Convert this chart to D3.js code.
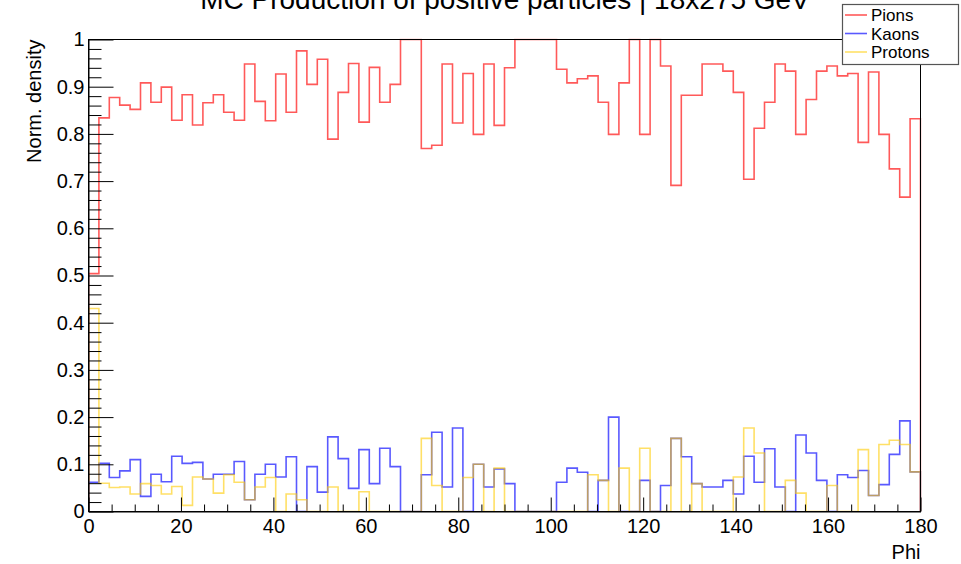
<!DOCTYPE html>
<html>
<head>
<meta charset="utf-8">
<script src="https://cdn.jsdelivr.net/npm/d3@7"></script>
<style>
  html, body { margin: 0; padding: 0; background: #fff; }
  svg { display: block; font-family: "Liberation Sans", Arial, Helvetica, sans-serif; }
</style>
</head>
<body>
<svg id="chart" width="961" height="564"></svg>
<script>
// 80 bins of 2.25 degrees in phi, 0..180
const nBins = 80;
const phiMin = 0, phiMax = 180;

// Per-bin fraction of each species (pions + kaons + protons = 1)
const pions = [
  0.504, 0.834, 0.877, 0.861, 0.852, 0.908, 0.867, 0.899, 0.829, 0.883,
  0.819, 0.866, 0.883, 0.846, 0.829, 0.948, 0.869, 0.828, 0.927, 0.846,
  0.976, 0.905, 0.958, 0.789, 0.888, 0.949, 0.825, 0.941, 0.867, 0.905,
  1.000, 1.000, 0.769, 0.776, 0.948, 0.823, 0.928, 0.799, 0.948, 0.818,
  0.940, 1.000, 1.000, 1.000, 1.000, 0.937, 0.908, 0.917, 0.923, 0.867,
  0.799, 0.908, 1.000, 0.799, 1.000, 0.944, 0.691, 0.882, 0.882, 0.948,
  0.948, 0.933, 0.888, 0.704, 0.812, 0.867, 0.948, 0.933, 0.799, 0.873,
  0.933, 0.944, 0.923, 0.928, 0.782, 0.931, 0.799, 0.726, 0.666, 0.832
];
const kaons = [
  0.062, 0.102, 0.072, 0.086, 0.110, 0.032, 0.079, 0.063, 0.117, 0.102,
  0.104, 0.069, 0.079, 0.079, 0.106, 0.025, 0.079, 0.100, 0.073, 0.116,
  0.000, 0.095, 0.041, 0.158, 0.112, 0.049, 0.131, 0.059, 0.134, 0.095,
  0.000, 0.000, 0.078, 0.168, 0.052, 0.177, 0.000, 0.100, 0.052, 0.090,
  0.059, 0.000, 0.000, 0.000, 0.000, 0.062, 0.092, 0.083, 0.000, 0.066,
  0.200, 0.000, 0.000, 0.066, 0.000, 0.055, 0.155, 0.116, 0.059, 0.052,
  0.052, 0.066, 0.037, 0.117, 0.062, 0.133, 0.052, 0.000, 0.162, 0.124,
  0.066, 0.000, 0.078, 0.072, 0.087, 0.034, 0.057, 0.121, 0.192, 0.084
];
const protons = [
  0.430, 0.060, 0.051, 0.052, 0.037, 0.059, 0.055, 0.037, 0.053, 0.013,
  0.073, 0.069, 0.039, 0.078, 0.062, 0.025, 0.052, 0.072, 0.000, 0.037,
  0.025, 0.000, 0.000, 0.052, 0.000, 0.000, 0.042, 0.000, 0.000, 0.000,
  0.000, 0.000, 0.155, 0.055, 0.000, 0.000, 0.072, 0.100, 0.000, 0.092,
  0.000, 0.000, 0.000, 0.000, 0.000, 0.000, 0.000, 0.000, 0.078, 0.066,
  0.000, 0.092, 0.000, 0.134, 0.000, 0.000, 0.155, 0.000, 0.059, 0.000,
  0.000, 0.000, 0.073, 0.177, 0.124, 0.000, 0.000, 0.066, 0.039, 0.000,
  0.000, 0.055, 0.000, 0.000, 0.131, 0.034, 0.142, 0.151, 0.142, 0.084
];

const seriesNames = ["Pions", "Kaons", "Protons"];
const seriesColors = ["#ff0000", "#0000ff", "#ffcc00"];

const xTickValues = [0, 20, 40, 60, 80, 100, 120, 140, 160, 180];
const xTickLabels = ["0", "20", "40", "60", "80", "100", "120", "140", "160", "180"];
const yTickValues = [0, 0.1, 0.2, 0.3, 0.4, 0.5, 0.6, 0.7, 0.8, 0.9, 1];
const yTickLabels = ["0", "0.1", "0.2", "0.3", "0.4", "0.5", "0.6", "0.7", "0.8", "0.9", "1"];

const titleText = "MC Production of positive particles | 18x275 GeV";
const xTitle = "Phi";
const yTitle = "Norm. density";

// Frame geometry
const frame = { left: 88.5, right: 920.5, top: 39.5, bottom: 511.5 };

const svg = d3.select("#chart");

const x = d3.scaleLinear().domain([phiMin, phiMax]).range([frame.left, frame.right]);
const y = d3.scaleLinear().domain([0, 1]).range([frame.bottom, frame.top]);
const binWidth = (phiMax - phiMin) / nBins;

// Step outline of a histogram, starting and ending on the baseline
function histPath(values) {
  const p = d3.path();
  p.moveTo(x(phiMin), y(0));
  values.forEach((v, i) => {
    const vv = Math.min(v, 1);
    p.lineTo(x(phiMin + i * binWidth), y(vv));
    p.lineTo(x(phiMin + (i + 1) * binWidth), y(vv));
  });
  p.lineTo(x(phiMax), y(0));
  return p.toString();
}

// Clip marks to the frame
svg.append("clipPath").attr("id", "frameClip")
  .append("rect")
  .attr("x", frame.left).attr("y", frame.top - 1)
  .attr("width", frame.right - frame.left + 1)
  .attr("height", frame.bottom - frame.top + 1);

const seriesData = [pions, kaons, protons];
const plot = svg.append("g").attr("clip-path", "url(#frameClip)");
seriesData.forEach((vals, k) => {
  plot.append("path")
    .attr("d", histPath(vals))
    .attr("fill", "none")
    .attr("stroke", seriesColors[k])
    .attr("stroke-opacity", k === 2 ? 0.6 : 0.65)
    .attr("stroke-width", 1.6);
});

// Frame
svg.append("rect")
  .attr("x", frame.left).attr("y", frame.top)
  .attr("width", frame.right - frame.left)
  .attr("height", frame.bottom - frame.top)
  .attr("fill", "none")
  .attr("stroke", "#000")
  .attr("stroke-width", 1);

const fontSize = 20;

// X axis: major ticks with labels, minor ticks every 5
const xMinor = d3.range(phiMin, phiMax + 0.001, 5).filter(v => v % 20 !== 0);
svg.append("g")
  .attr("transform", `translate(0,${frame.bottom})`)
  .call(d3.axisBottom(x).tickValues(xMinor).tickSize(-7).tickFormat(""))
  .call(g => g.select(".domain").remove());
svg.append("g")
  .attr("transform", `translate(0,${frame.bottom})`)
  .call(d3.axisBottom(x).tickValues(xTickValues).tickSize(-14).tickSizeOuter(0)
    .tickPadding(7)
    .tickFormat((d, i) => xTickLabels[i]))
  .call(g => g.selectAll("text").attr("font-size", fontSize).attr("fill", "#000")
    .attr("font-family", "'Liberation Sans', Arial, sans-serif"))
  .call(g => g.select(".domain").attr("stroke", "#000"));

// Y axis: major ticks every 0.1, minor ticks every 0.02
const yMinor = d3.range(0, 51).map(i => i / 50).filter((v, i) => i % 5 !== 0);
svg.append("g")
  .attr("transform", `translate(${frame.left},0)`)
  .call(d3.axisLeft(y).tickValues(yMinor).tickSize(-13).tickFormat(""))
  .call(g => g.select(".domain").remove());
svg.append("g")
  .attr("transform", `translate(${frame.left},0)`)
  .call(d3.axisLeft(y).tickValues(yTickValues).tickSize(-25).tickSizeOuter(0)
    .tickPadding(4)
    .tickFormat((d, i) => yTickLabels[i]))
  .call(g => g.selectAll("text").attr("font-size", fontSize).attr("fill", "#000")
    .attr("font-family", "'Liberation Sans', Arial, sans-serif"))
  .call(g => g.select(".domain").attr("stroke", "#000"));

svg.selectAll(".tick line").attr("stroke", "#000");

// Axis titles
svg.append("text")
  .attr("x", frame.right).attr("y", 559)
  .attr("text-anchor", "end")
  .attr("font-size", fontSize)
  .text(xTitle);

svg.append("text")
  .attr("transform", `translate(41,${frame.top}) rotate(-90)`)
  .attr("text-anchor", "end")
  .attr("font-size", fontSize)
  .text(yTitle);

// Title (runs off the top edge of the canvas)
svg.append("text")
  .attr("x", 505).attr("y", 9)
  .attr("text-anchor", "middle")
  .attr("font-size", 28)
  .text(titleText);

// Legend
const legend = svg.append("g");
legend.append("rect")
  .attr("x", 842.5).attr("y", 4.5)
  .attr("width", 116).attr("height", 60)
  .attr("fill", "#fff")
  .attr("stroke", "#555")
  .attr("stroke-width", 1.2);
seriesNames.forEach((name, k) => {
  const cy = 15 + k * 18.5;
  legend.append("line")
    .attr("x1", 845).attr("x2", 867)
    .attr("y1", cy).attr("y2", cy)
    .attr("stroke", seriesColors[k])
    .attr("stroke-opacity", k === 2 ? 0.6 : 0.65)
    .attr("stroke-width", 1.6);
  legend.append("text")
    .attr("x", 871).attr("y", cy)
    .attr("dy", "0.36em")
    .attr("font-size", 17)
    .text(name);
});
</script>
</body>
</html>
